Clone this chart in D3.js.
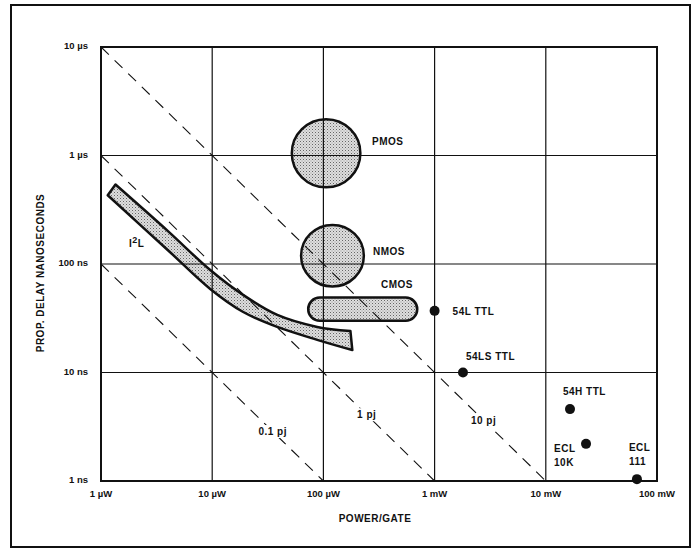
<!DOCTYPE html>
<html>
<head>
  <meta charset="UTF-8">
  <style>
    body { margin: 0; background: #fff; }
    text { font-family: "Liberation Sans", Arial, sans-serif; font-weight: bold; fill: #111; }
    .lbl { font-size: 10px; letter-spacing: 0.5px; }
    .tick { font-size: 9.5px; }
  </style>
</head>
<body>
<svg width="693" height="550"></svg>
<script src="https://d3js.org/d3.v7.min.js"></script>
<script>
// axis decades (power in uW, delay in ns)
const powerTicks = [1, 10, 100, 1000, 10000, 100000];
const powerLabels = ["1 \u00b5W", "10 \u00b5W", "100 \u00b5W", "1 mW", "10 mW", "100 mW"];
const delayTicks = [1, 10, 100, 1000, 10000];
const delayLabels = ["1 ns", "10 ns", "100 ns", "1 \u00b5s", "10 \u00b5s"];

// constant speed-power product lines (pJ)
const energyValues = [0.1, 1, 10];
const energyLabels = ["0.1 pj", "1 pj", "10 pj"];

// logic families drawn as dots
const deviceNames = ["54L TTL", "54LS TTL", "54H TTL", "ECL|10K", "ECL|111"];
const devicePower = [1000, 1800, 16500, 23000, 66000];
const deviceDelay = [37, 10, 4.6, 2.2, 1.04];

// logic families drawn as regions: [min, max]
const regionNames = ["PMOS", "NMOS", "CMOS"];
const regionPower = [[52, 215], [63, 231], [73, 698]];
const regionDelay = [[509, 2160], [62, 229], [30, 49]];

// I2L band edges
const i2lUpperPower = [1.35, 4, 9.6, 19, 38.5, 88, 175];
const i2lUpperDelay = [540, 201, 88, 51.8, 33.9, 26.3, 24.1];
const i2lLowerPower = [1.15, 4, 9.6, 19, 38.5, 88, 182];
const i2lLowerDelay = [430, 134, 58.9, 36.1, 26.3, 20, 16.1];

let svg = d3.select("svg");

let x = d3.scaleLog().domain([1, 100000]).range([101, 657]);
let y = d3.scaleLog().domain([1, 10000]).range([481, 47]);

// stipple fill
let pat = svg.append("defs").append("pattern")
    .attr("id", "stipple")
    .attr("width", 3).attr("height", 3)
    .attr("patternUnits", "userSpaceOnUse");
pat.append("rect").attr("width", 3).attr("height", 3).attr("fill", "#dedede");
pat.append("rect").attr("width", 1).attr("height", 1).attr("fill", "#666");
pat.append("rect").attr("x", 1.5).attr("y", 1.5).attr("width", 1).attr("height", 1).attr("fill", "#999");

// outer frame
svg.append("rect")
    .attr("x", 11).attr("y", 5).attr("width", 679).attr("height", 542)
    .attr("fill", "none").attr("stroke", "#111").attr("stroke-width", 2);

// regions (fill + outline)
let regions = svg.append("g").attr("id", "regions");
regionNames.forEach((name, i) => {
    let x0 = x(regionPower[i][0]), x1 = x(regionPower[i][1]);
    let y0 = y(regionDelay[i][1]), y1 = y(regionDelay[i][0]);
    if (name === "CMOS") {
        regions.append("rect")
            .attr("x", x0).attr("y", y0)
            .attr("width", x1 - x0).attr("height", y1 - y0)
            .attr("rx", (y1 - y0) / 2)
            .attr("fill", "url(#stipple)").attr("stroke", "#111").attr("stroke-width", 2.5);
    } else {
        regions.append("ellipse")
            .attr("cx", (x0 + x1) / 2).attr("cy", (y0 + y1) / 2)
            .attr("rx", (x1 - x0) / 2).attr("ry", (y1 - y0) / 2)
            .attr("fill", "url(#stipple)").attr("stroke", "#111").attr("stroke-width", 2.5);
    }
});

// I2L band
let edge = d3.line().x(d => x(d[0])).y(d => y(d[1])).curve(d3.curveCatmullRom);
let upper = i2lUpperPower.map((p, i) => [p, i2lUpperDelay[i]]);
let lower = i2lLowerPower.map((p, i) => [p, i2lLowerDelay[i]]).reverse();
regions.append("path")
    .attr("d", edge(upper) + "L" + edge(lower).slice(1) + "Z")
    .attr("fill", "url(#stipple)").attr("stroke", "#111")
    .attr("stroke-width", 2.5).attr("stroke-linejoin", "round");

// grid
let grid = svg.append("g").attr("id", "grid");
grid.selectAll(".vg").data(powerTicks).enter().append("line")
    .attr("x1", d => x(d)).attr("x2", d => x(d))
    .attr("y1", y(1)).attr("y2", y(10000))
    .attr("stroke", "#111").attr("stroke-width", 1.2);
grid.selectAll(".hg").data(delayTicks).enter().append("line")
    .attr("y1", d => y(d)).attr("y2", d => y(d))
    .attr("x1", x(1)).attr("x2", x(100000))
    .attr("stroke", "#111").attr("stroke-width", 1.2);
grid.append("rect")
    .attr("x", x(1)).attr("y", y(10000))
    .attr("width", x(100000) - x(1)).attr("height", y(1) - y(10000))
    .attr("fill", "none").attr("stroke", "#111").attr("stroke-width", 2);

// dashed energy lines: delay(ns) = E(pJ) * 1000 / P(uW)
let dashes = svg.append("g").attr("id", "energy");
dashes.selectAll("line").data(energyValues).enter().append("line")
    .attr("x1", x(1)).attr("y1", d => y(d * 1000))
    .attr("x2", d => x(d * 1000)).attr("y2", y(1))
    .attr("stroke", "#111").attr("stroke-width", 1.1)
    .attr("stroke-dasharray", "11,8");
const energyLabelAt = [35, 245, 2760];
energyValues.forEach((d, i) => {
    let t = dashes.append("text")
        .attr("class", "lbl")
        .attr("x", x(energyLabelAt[i]))
        .attr("y", y(d * 1000 / energyLabelAt[i]) + 3.5)
        .attr("text-anchor", "middle")
        .text(energyLabels[i]);
    let b = t.node().getBBox();
    dashes.insert("rect", "text")
        .attr("x", b.x - 2).attr("y", b.y - 1)
        .attr("width", b.width + 4).attr("height", b.height + 2)
        .attr("fill", "#fff");
});

// device dots
let dots = svg.append("g").attr("id", "devices");
dots.selectAll("circle").data(deviceNames).enter().append("circle")
    .attr("cx", (d, i) => x(devicePower[i]))
    .attr("cy", (d, i) => y(deviceDelay[i]))
    .attr("r", 5).attr("fill", "#111");
const devOffset = [[18, 4], [3, -13], [-7, -14], [-32, 8], [-8, -28]];
deviceNames.forEach((name, i) => {
    let t = dots.append("text").attr("class", "lbl")
        .attr("x", x(devicePower[i]) + devOffset[i][0])
        .attr("y", y(deviceDelay[i]) + devOffset[i][1]);
    name.split("|").forEach((part, k) => {
        t.append("tspan")
            .attr("x", x(devicePower[i]) + devOffset[i][0])
            .attr("dy", k === 0 ? 0 : 14)
            .text(part);
    });
});

// region labels
const regionLabelPos = [[372, 145], [373, 255], [381, 288]];
regionNames.forEach((name, i) => {
    svg.append("text").attr("class", "lbl")
        .attr("x", regionLabelPos[i][0]).attr("y", regionLabelPos[i][1])
        .text(name);
});
let il = svg.append("text").attr("class", "lbl").attr("x", 129).attr("y", 247);
il.append("tspan").text("I");
il.append("tspan").attr("dy", -4).style("font-size", "9px").text("2");
il.append("tspan").attr("dy", 4).text("L");

// tick labels
svg.selectAll(".xt").data(powerTicks).enter().append("text")
    .attr("class", "tick")
    .attr("x", d => x(d)).attr("y", 497)
    .attr("text-anchor", "middle")
    .text((d, i) => powerLabels[i]);
svg.selectAll(".yt").data(delayTicks).enter().append("text")
    .attr("class", "tick")
    .attr("x", 88).attr("y", d => y(d) + 2)
    .attr("text-anchor", "end")
    .text((d, i) => delayLabels[i]);

// axis titles
svg.append("text").attr("class", "lbl")
    .attr("x", 375).attr("y", 522).attr("text-anchor", "middle")
    .text("POWER/GATE");
svg.append("text").attr("class", "lbl")
    .attr("transform", "translate(44,273) rotate(-90)")
    .attr("text-anchor", "middle")
    .text("PROP. DELAY NANOSECONDS");
</script>
</body>
</html>
